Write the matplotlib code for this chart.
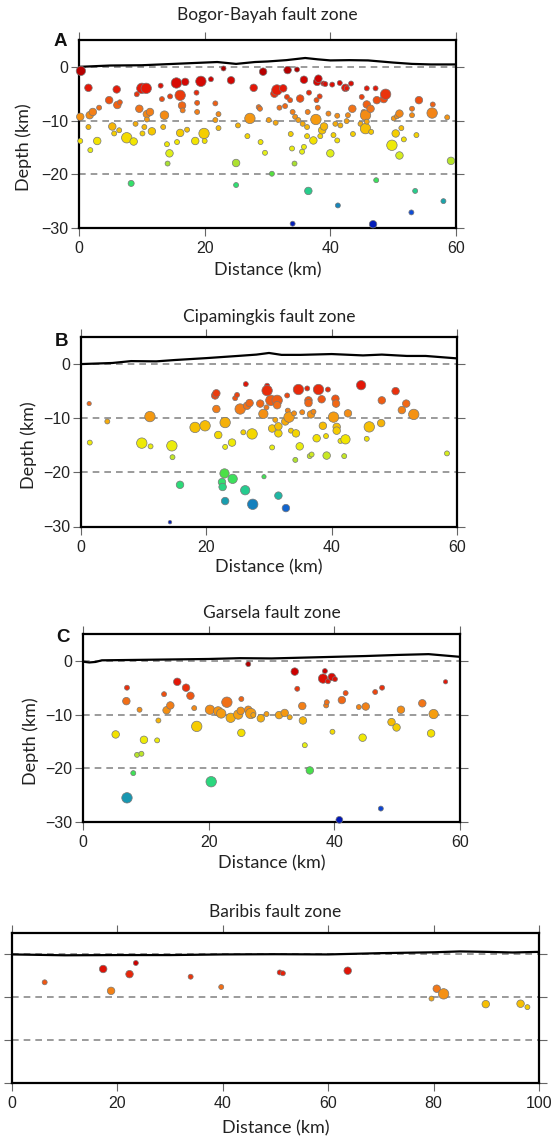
import numpy as np
import matplotlib
matplotlib.use("Agg")
import matplotlib.pyplot as plt
from matplotlib.colors import LinearSegmentedColormap

# hypocentre sections along four fault zones; depth in km (negative down)

# --- A: Bogor-Bayah ---
a_dist = [0.3, 1.5, 0.2, 0.2, 1.5, 1.8, 1.7, 2.2, 2.9, 3.2, 4.8, 5.3, 5.6, 6.0, 6.1, 6.5, 6.4, 7.6,
          8.3, 8.7, 9.0, 9.2, 9.6, 10.0, 10.7, 10.1, 10.4, 10.8, 11.3, 11.6, 10.8, 13.0, 13.2, 13.6,
          13.4, 14.0, 14.1, 14.4, 14.5, 15.5, 15.6, 16.1, 16.4, 16.9, 16.1, 17.2, 16.5, 18.5, 18.7,
          18.8, 18.8, 19.4, 19.9, 20.0, 21.0, 21.7, 21.7, 22.2, 22.2, 23.0, 24.2, 25.3, 25.0, 25.0,
          26.8, 27.2, 27.8, 28.6, 28.8, 29.3, 28.9, 29.6, 30.2, 30.7, 31.1, 31.3, 31.5, 31.9, 32.5,
          32.8, 33.1, 33.2, 33.6, 33.9, 33.7, 34.0, 34.0, 34.3, 34.4, 34.7, 35.2, 34.9, 35.5, 35.8,
          35.6, 35.8, 36.3, 36.5, 36.4, 36.6, 36.3, 37.3, 37.7, 37.8, 37.9, 38.0, 38.1, 38.3, 38.4,
          38.7, 38.9, 39.0, 39.2, 39.7, 40.0, 40.3, 40.5, 40.8, 41.1, 41.2, 41.1, 41.5, 41.6, 42.4,
          42.6, 42.8, 43.3, 43.5, 42.6, 43.6, 44.8, 45.0, 45.3, 45.6, 45.6, 45.8, 46.5, 46.8, 45.8,
          47.3, 45.8, 46.4, 47.2, 47.4, 48.5, 48.8, 49.8, 50.1, 50.4, 50.6, 51.0, 51.0, 51.3, 51.7,
          52.9, 53.0, 53.0, 53.5, 53.7, 54.1, 56.2, 56.3, 58.0, 58.6, 59.2]
a_depth = [-0.75, -3.9, -9.3, -13.8, -11.2, -15.5, -9.0, -8.4, -13.8, -7.6, -6.2, -11.1, -12.4,
           -4.2, -7.1, -6.6, -11.8, -13.2, -21.7, -13.9, -10.6, -5.1, -7.8, -4.0, -4.0, -12.4,
           -11.2, -8.8, -8.4, -12.0, -9.8, -3.5, -6.0, -9.0, -11.2, -14.4, -18.0, -16.1, -5.5,
           -3.0, -14.0, -5.3, -7.2, -2.8, -12.3, -11.7, -8.1, -13.8, -4.8, -6.7, -8.4, -2.7,
           -12.4, -13.8, -2.3, -6.8, -9.9, -8.8, -11.4, -0.3, -2.5, -10.9, -17.9, -22.0, -12.9,
           -9.6, -3.9, -7.5, -7.8, -0.9, -14.0, -16.0, -9.9, -19.9, -5.0, -10.4, -4.3, -7.6,
           -4.0, -7.3, -5.6, -0.6, -6.2, -15.2, -12.5, -29.2, -8.4, -18.0, -9.3, -0.5, -5.9,
           -9.9, -15.8, -14.9, -10.6, -2.4, -12.9, -23.1, -8.4, -4.8, -11.2, -13.7, -9.8, -6.2,
           -2.8, -7.6, -2.2, -5.5, -12.9, -11.8, -3.1, -11.1, -3.2, -8.7, -16.1, -3.3, -12.7,
           -10.6, -13.7, -25.8, -9.1, -3.0, -10.9, -3.9, -4.0, -9.0, -3.1, -7.8, -10.1, -12.5,
           -10.6, -5.6, -8.4, -9.0, -11.5, -10.2, -12.1, -29.3, -4.0, -21.1, -7.0, -7.8, -4.0,
           -6.2, -6.0, -5.1, -14.6, -9.6, -12.4, -9.2, -8.7, -16.5, -11.4, -13.5, -27.1, -7.8,
           -9.0, -23.1, -12.7, -6.2, -8.6, -7.0, -25.0, -9.4, -17.5]
a_mag = [3.2, 2.7, 2.7, 2.0, 2.0, 2.0, 2.7, 2.7, 2.7, 2.0, 2.7, 2.7, 2.0, 2.7, 2.7, 2.0, 2.0, 3.5,
         2.3, 2.7, 2.0, 2.0, 2.7, 3.5, 3.5, 2.0, 2.0, 2.7, 2.7, 2.7, 2.0, 2.0, 2.0, 3.0, 2.0, 2.0,
         2.0, 2.7, 2.0, 3.5, 2.0, 3.5, 2.7, 2.7, 2.7, 2.0, 2.0, 2.7, 2.0, 2.0, 2.0, 3.5, 3.5, 2.0,
         2.0, 2.0, 2.0, 2.0, 2.0, 2.0, 2.7, 2.0, 2.7, 2.0, 2.0, 3.5, 2.7, 2.0, 2.0, 2.7, 2.0, 2.0,
         2.0, 2.0, 2.7, 2.0, 3.5, 2.0, 2.7, 2.0, 2.0, 2.7, 2.0, 2.0, 2.0, 2.0, 2.0, 2.0, 2.0, 2.0,
         2.7, 2.0, 2.0, 2.0, 2.0, 2.7, 2.0, 2.7, 2.0, 2.0, 2.0, 2.7, 3.5, 2.0, 2.7, 2.0, 2.7, 2.0,
         2.0, 2.7, 2.0, 2.7, 2.0, 2.0, 2.7, 2.0, 2.0, 2.0, 2.0, 2.0, 2.0, 2.0, 2.0, 2.7, 2.0, 2.0,
         2.0, 2.7, 2.0, 2.0, 2.0, 2.0, 2.0, 3.5, 3.5, 2.0, 2.0, 2.7, 2.0, 2.0, 2.7, 2.7, 2.0, 2.7,
         2.7, 3.5, 3.5, 2.0, 2.7, 2.0, 2.7, 2.7, 2.0, 2.0, 2.0, 2.0, 2.0, 2.0, 2.0, 2.7, 3.5, 2.0,
         2.0, 2.0, 2.7]
a_topo_x = [0, 5, 10, 15, 20, 22, 25, 28, 30, 33, 36, 38, 40, 43, 46, 50, 53, 56, 60]
a_topo_z = [0.0, 0.25, 0.3, 0.55, 0.8, 0.9, 0.55, 0.9, 1.0, 1.25, 1.65, 1.4, 1.2, 1.25, 1.2, 0.8,
            0.55, 0.45, 0.45]

# --- B: Cipamingkis ---
b_dist = [1.3, 1.4, 4.2, 9.7, 11.0, 11.1, 14.2, 14.5, 14.6, 15.8, 18.2, 19.8, 21.4, 21.6, 21.6,
          21.9, 22.5, 22.6, 22.9, 23.0, 23.0, 23.0, 24.2, 24.1, 24.6, 24.9, 25.4, 25.9, 26.3, 26.2,
          26.5, 26.9, 27.3, 27.4, 28.6, 29.1, 29.2, 29.6, 29.7, 29.7, 30.5, 30.5, 30.3, 31.0, 31.3,
          31.3, 31.5, 31.5, 31.5, 32.7, 32.9, 32.6, 33.0, 33.2, 33.5, 34.2, 34.3, 34.0, 34.7, 34.9,
          35.3, 36.1, 36.3, 36.3, 36.5, 36.7, 36.8, 37.1, 37.9, 37.6, 38.4, 38.6, 39.1, 39.2, 39.4,
          40.3, 40.6, 40.7, 40.8, 40.8, 41.4, 42.0, 42.2, 42.6, 44.7, 45.6, 46.0, 47.9, 48.0, 50.2,
          51.2, 51.9, 53.1, 58.4]
b_depth = [-7.3, -14.5, -10.6, -14.6, -9.7, -15.2, -29.2, -15.1, -17.2, -22.3, -11.7, -11.4, -5.8,
           -5.4, -8.3, -13.1, -21.8, -22.7, -20.2, -10.8, -15.3, -25.3, -21.2, -14.5, -6.3, -5.7,
           -8.3, -12.6, -3.7, -23.3, -7.7, -7.2, -12.9, -25.9, -7.3, -9.2, -20.8, -8.0, -4.0,
           -4.9, -15.4, -11.9, -6.7, -10.3, -6.7, -7.6, -24.3, -12.8, -11.5, -26.6, -5.8, -10.6,
           -8.6, -9.8, -12.3, -17.7, -12.8, -9.1, -4.7, -15.2, -8.9, -4.5, -6.7, -7.2, -17.0,
           -9.3, -16.7, -8.8, -4.7, -13.7, -6.5, -11.4, -13.3, -16.9, -4.7, -9.8, -6.4, -7.3,
           -11.6, -12.3, -14.2, -17.0, -13.9, -9.1, -3.9, -13.8, -11.6, -10.9, -6.7, -5.0, -8.5,
           -7.3, -9.3, -16.5]
b_mag = [1.8, 2.0, 2.0, 3.5, 3.5, 2.0, 1.6, 3.5, 2.0, 2.7, 3.5, 3.5, 2.7, 2.7, 2.7, 2.7, 2.7, 2.7,
         3.2, 3.5, 2.0, 2.7, 3.2, 2.7, 2.0, 2.0, 3.5, 2.0, 2.0, 3.2, 2.7, 2.7, 3.5, 3.5, 2.7, 3.2,
         1.8, 2.0, 2.0, 3.5, 2.0, 2.7, 3.5, 2.0, 3.5, 2.7, 2.7, 2.7, 2.7, 2.7, 2.0, 2.7, 2.0, 3.5,
         2.0, 2.0, 2.7, 2.0, 3.5, 2.7, 2.0, 2.0, 2.7, 2.7, 2.0, 2.7, 2.0, 2.0, 3.5, 2.7, 2.7, 2.7,
         2.0, 2.7, 2.0, 3.5, 2.7, 2.7, 2.7, 2.7, 2.0, 2.0, 3.2, 2.7, 3.2, 2.0, 3.5, 2.7, 2.7, 2.7,
         2.7, 2.7, 3.5, 2.0]
b_topo_x = [0, 5, 8, 12, 15, 20, 25, 28, 30, 32, 35, 40, 45, 48, 52, 55, 60]
b_topo_z = [0.0, 0.2, 0.55, 0.5, 0.75, 1.1, 1.5, 1.75, 2.05, 1.7, 1.7, 1.85, 1.6, 1.75, 1.5, 1.5,
            1.05]

# --- C: Garsela ---
c_dist = [5.2, 6.9, 7.0, 7.0, 8.0, 8.6, 9.0, 9.3, 9.7, 11.8, 12.0, 12.9, 13.3, 13.9, 15.0, 16.4,
          17.1, 17.7, 18.1, 20.2, 20.4, 21.5, 22.0, 22.9, 23.5, 24.7, 25.1, 25.2, 25.2, 26.3, 26.3,
          26.7, 27.1, 28.3, 29.2, 31.2, 32.1, 32.9, 33.7, 34.1, 34.9, 35.0, 35.3, 36.1, 38.2, 38.5,
          38.7, 38.8, 39.0, 39.6, 40.1, 39.7, 40.8, 41.2, 41.8, 43.9, 44.5, 45.0, 46.5, 47.6, 47.4,
          49.1, 49.9, 50.6, 54.0, 55.4, 55.8, 57.7]
c_depth = [-13.7, -7.5, -5.0, -25.5, -20.9, -17.5, -9.1, -17.3, -14.7, -14.8, -11.1, -6.2, -9.2,
           -8.3, -3.9, -5.0, -6.5, -8.8, -12.2, -9.1, -22.5, -9.4, -9.8, -7.7, -10.6, -10.0, -9.3,
           -7.1, -13.4, -0.6, -9.1, -9.8, -10.1, -10.7, -9.9, -10.1, -9.7, -10.5, -2.0, -5.2,
           -8.4, -11.1, -15.7, -20.4, -3.3, -1.9, -8.3, -7.7, -3.8, -3.0, -3.4, -13.2, -29.6,
           -7.3, -6.0, -8.6, -14.3, -8.5, -5.8, -5.0, -27.5, -11.4, -12.4, -9.1, -7.9, -13.5,
           -9.9, -3.9]
c_mag = [2.7, 2.7, 2.0, 3.5, 2.0, 2.0, 2.0, 2.0, 2.7, 2.0, 2.0, 2.0, 2.7, 2.7, 2.7, 2.7, 2.7, 2.0,
         3.5, 3.2, 3.5, 3.2, 3.2, 3.5, 3.2, 3.2, 2.7, 2.0, 2.7, 2.0, 2.7, 3.5, 2.0, 2.7, 2.0, 2.7,
         2.7, 2.0, 2.7, 2.0, 2.7, 2.7, 2.0, 2.7, 3.2, 2.0, 2.0, 2.0, 2.0, 2.7, 2.0, 2.0, 2.5, 2.7,
         2.0, 2.0, 2.7, 2.7, 2.0, 2.0, 2.0, 2.7, 2.7, 2.7, 2.7, 2.7, 3.2, 1.8]
c_topo_x = [0, 1, 2, 3, 10, 20, 25, 30, 35, 40, 45, 50, 55, 57, 60]
c_topo_z = [-0.15, -0.3, -0.2, 0.1, 0.2, 0.35, 0.5, 0.45, 0.6, 0.75, 0.9, 1.1, 1.25, 1.05, 0.75]

# --- D: Baribis ---
d_dist = [6.2, 17.3, 18.8, 22.3, 23.5, 33.9, 39.7, 50.8, 51.4, 63.7, 79.6, 80.6, 81.9, 89.9,
          96.5, 97.8]
d_depth = [-6.5, -3.4, -8.5, -4.6, -2.0, -5.2, -7.6, -4.2, -4.4, -3.8, -10.3, -8.0, -9.2, -11.6,
           -11.5, -12.3]
d_mag = [2.0, 2.7, 2.7, 2.7, 2.0, 2.0, 2.0, 2.0, 2.0, 2.7, 2.0, 2.7, 3.5, 2.7, 2.7, 2.0]
d_topo_x = [0, 10, 20, 30, 40, 50, 60, 70, 80, 85, 90, 95, 100]
d_topo_z = [0.0, -0.2, -0.15, -0.15, 0.0, 0.05, 0.0, 0.3, 0.5, 0.7, 0.6, 0.45, 0.6]

titles = ["Bogor-Bayah fault zone", "Cipamingkis fault zone", "Garsela fault zone",
          "Baribis fault zone"]
letters = ["A", "B", "C", ""]

# depth colour scale (GMT seis-like)
seis = LinearSegmentedColormap.from_list("seis", [
    (0.0, "#a80000"), (2/30, "#cc0000"), (4/30, "#e41808"), (6/30, "#ee4c10"),
    (8/30, "#f27818"), (10/30, "#f5a010"), (12/30, "#f6c800"), (14/30, "#f2e800"),
    (16/30, "#e4f018"), (18/30, "#a8e030"), (20/30, "#50e040"), (22/30, "#30e070"),
    (24/30, "#20c0a0"), (25.5/30, "#1898b0"), (27/30, "#1050d8"), (1.0, "#0010b0")])

W, H = 560, 1141
fig = plt.figure(figsize=(W / 100, H / 100), dpi=100)

lab_font = "Lato"
tick_font = "Liberation Sans"

# axes boxes in pixels: left, right, top, bottom
boxes = [(79, 456, 40, 228), (81, 457, 337, 526.5), (83, 460, 634, 822), (12, 539, 933, 1083)]
title_y = [15, 317, 613, 912]
letter_xy = [(60, 41), (61, 341), (63, 637), None]
ylab_off = [47, 44, 44, None]
xlab_off = [34, 33, 33, 37]
datasets = [(a_dist, a_depth, a_mag, a_topo_x, a_topo_z, 60),
            (b_dist, b_depth, b_mag, b_topo_x, b_topo_z, 60),
            (c_dist, c_depth, c_mag, c_topo_x, c_topo_z, 60),
            (d_dist, d_depth, d_mag, d_topo_x, d_topo_z, 100)]

for i, (box, data) in enumerate(zip(boxes, datasets)):
    l, r, t, b = box
    dist, depth, mag, tx, tz, xmax = data
    ax = fig.add_axes([l / W, 1 - b / H, (r - l) / W, (b - t) / H])
    ax.set_xlim(0, xmax)
    ax.set_ylim(-30, 5)

    for yy in (0, -10, -20):
        ax.axhline(yy, color="#8a8a8a", lw=1.2, ls=(0, (4, 3)), zorder=1)
    ax.plot(tx, tz, color="black", lw=1.6, zorder=2)

    dep = np.array(depth)
    diam = 2.6 * np.array(mag) - 1.6
    ax.scatter(dist, depth, s=diam ** 2, c=-dep, cmap=seis, vmin=0, vmax=30,
               edgecolors="#777777", linewidths=0.5, zorder=3, clip_on=False)

    ax.set_xticks(np.arange(0, xmax + 1, 20))
    ax.set_yticks([-30, -20, -10, 0])
    ax.tick_params(direction="out", length=5.5, width=0.8, color="#666666",
                   top=True, right=True, labelsize=11.5, labelcolor="#222222")
    ax.tick_params(axis="x", pad=4)
    ax.tick_params(axis="y", pad=2)
    for lab in ax.get_xticklabels() + ax.get_yticklabels():
        lab.set_fontfamily(tick_font)
    for sp in ax.spines.values():
        sp.set_linewidth(1.6)
        sp.set_color("black")

    ax.set_xlabel("Distance (km)", fontsize=13, fontfamily=lab_font, color="#222222")
    ax.xaxis.set_label_coords(0.5, -(xlab_off[i] / (b - t)))
    if ylab_off[i] is not None:
        ax.set_ylabel("Depth (km)", fontsize=13, fontfamily=lab_font, color="#222222")
        ax.yaxis.set_label_coords(-(ylab_off[i] / (r - l)), 15 / 35)
    else:
        ax.set_yticklabels([])

    fig.text((l + r) / 2 / W, 1 - title_y[i] / H, titles[i], ha="center", va="center",
             fontsize=12.5, fontfamily=lab_font, color="#222222")
    if letter_xy[i] is not None:
        lx, ly = letter_xy[i]
        fig.text(lx / W, 1 - ly / H, letters[i], ha="center", va="center",
                 fontsize=13.5, fontweight="bold", fontfamily=tick_font, color="#111111")

fig.savefig("out.png", dpi=100, facecolor="white")
